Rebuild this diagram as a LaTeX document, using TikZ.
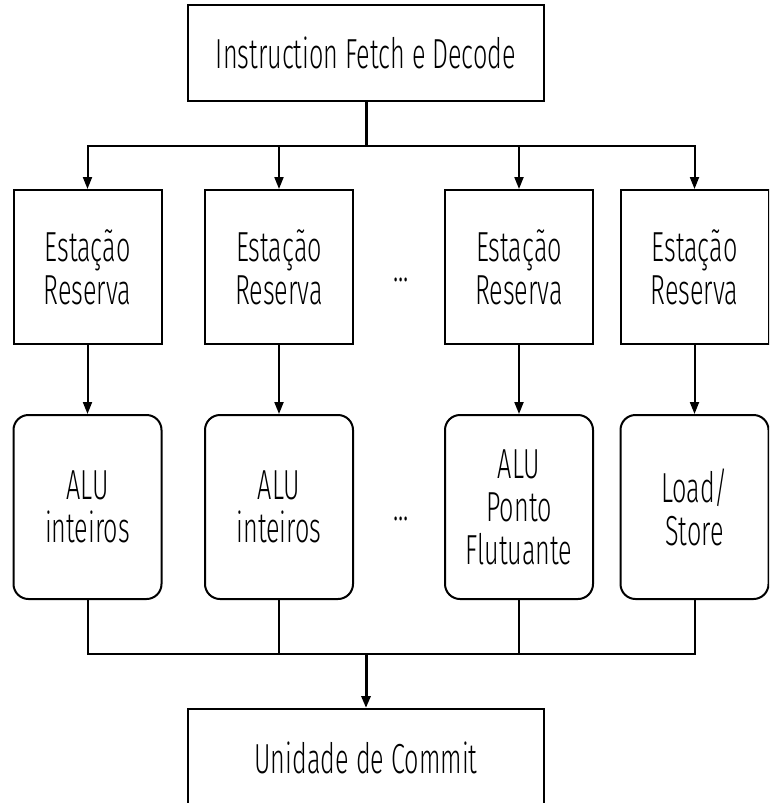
\documentclass[tikz,border=0pt]{standalone}
\usepackage{fontspec}
\setmainfont{Fira Sans Light}[FakeStretch=0.6]
\usetikzlibrary{arrows.meta}
\begin{document}
\begin{tikzpicture}[x=1pt,y=-1pt,
  every node/.style={font=\fontsize{42}{43}\selectfont},
  block/.style={draw,line width=2pt,align=center,inner sep=0pt},
  stationbox/.style={block,minimum width=148pt,minimum height=154pt},
  unitbox/.style={block,rounded corners=15pt,minimum width=148pt,minimum height=184pt},
  wide/.style={block,minimum width=356pt},
  wire/.style={line width=2pt},
  trunk/.style={line width=3pt},
  arr/.style={-{Triangle[width=9pt,length=12pt]}}]
\useasboundingbox (0,0) rectangle (769,803);
\clip (0,0) rectangle (769,803);

% fetch / decode stage
\node[wide,minimum height=96pt] (fetch) at (366,53) {Instruction Fetch e Decode};

% reservation stations
\node[stationbox] (r1) at (87.5,267) {Estação\\Reserva};
\node[stationbox] (r2) at (279,267) {Estação\\Reserva};
\node[stationbox] (r3) at (519,267) {Estação\\Reserva};
\node[stationbox] (r4) at (694.5,267) {Estação\\Reserva};
\node[anchor=base] (d1) at (401,281) {...};

% execution units
\node[unitbox] (u1) at (87.5,507) {ALU\\inteiros};
\node[unitbox] (u2) at (279,507) {ALU\\inteiros};
\node[unitbox] (u3) at (519,507) {ALU\\Ponto\\Flutuante};
\node[unitbox] (u4) at (694.5,507) {Load/\\Store};
\node[anchor=base] (d2) at (401,520) {...};

% commit stage
\node[wide,minimum height=97pt] (commit) at (366,757.5) {Unidade de Commit};

% dispatch bus
\coordinate (jt) at (366,146);
\draw[trunk] (fetch.south) -- (jt);
\foreach \i in {1,...,4}
  \draw[wire,arr] (jt) -| (r\i.north);

% station to unit
\foreach \i in {1,...,4}
  \draw[wire,arr] (r\i.south) -- (u\i.north);

% result bus
\coordinate (jb) at (366,654);
\foreach \i in {1,...,4}
  \draw[wire] (u\i.south) |- (jb);
\draw[trunk,arr] (jb) -- (commit.north);
\end{tikzpicture}
\end{document}
